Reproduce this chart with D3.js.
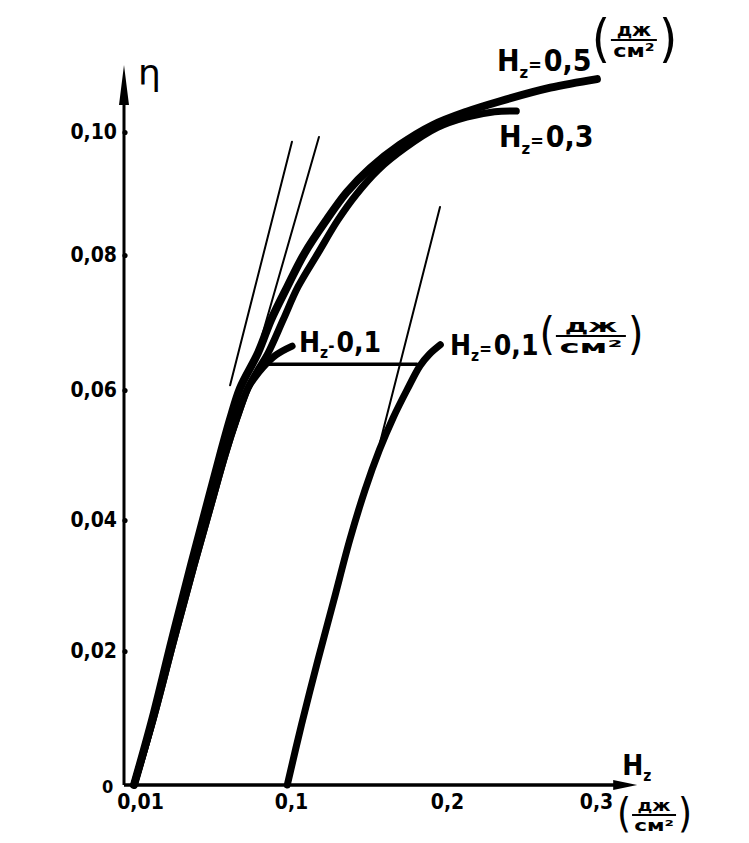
<!DOCTYPE html>
<html><head><meta charset="utf-8">
<script src="https://cdn.jsdelivr.net/npm/d3@7"></script>
<style>
html,body{margin:0;padding:0;background:#fff;}
svg{display:block;background:#fff;}
text{font-family:"DejaVu Sans Condensed","Liberation Sans Narrow","DejaVu Sans",sans-serif;font-weight:bold;fill:#000;}
</style></head><body>
<svg id="chart" width="749" height="843"></svg>
<script>
// ---------------- data ----------------
const xTickValues = [0.01, 0.1, 0.2, 0.3];
const xTickLabels = ["0,01", "0,1", "0,2", "0,3"];
const yTickValues = [0.02, 0.04, 0.06, 0.08, 0.10];
const yTickLabels = ["0,02", "0,04", "0,06", "0,08", "0,10"];

// Hz = 0.5 (дж/см²)
const curve05Hz  = [0.010, 0.0205, 0.032, 0.043, 0.052, 0.060, 0.066, 0.0716, 0.082, 0.0896, 0.099, 0.110, 0.124, 0.137, 0.152, 0.171, 0.192, 0.214, 0.2355, 0.268, 0.298];
const curve05Eta = [0.000, 0.0097, 0.0217, 0.033, 0.042, 0.050, 0.0557, 0.0603, 0.0655, 0.0704, 0.0753, 0.0803, 0.0857, 0.0902, 0.0941, 0.0979, 0.1011, 0.1033, 0.1050, 0.1072, 0.1086];
// Hz = 0.3
const curve03Hz  = [0.010, 0.021, 0.0332, 0.0449, 0.0547, 0.0629, 0.0698, 0.0762, 0.082, 0.0879, 0.0966, 0.1058, 0.1186, 0.1314, 0.143, 0.157, 0.1744, 0.195, 0.214, 0.232, 0.246];
const curve03Eta = [0.000, 0.0097, 0.0217, 0.0331, 0.0423, 0.050, 0.0557, 0.0603, 0.063, 0.0655, 0.0704, 0.0753, 0.0803, 0.0857, 0.0898, 0.0938, 0.0974, 0.1007, 0.1024, 0.1033, 0.1034];
// Hz = 0.1 (from origin)
const curve01Hz  = [0.010, 0.021, 0.0332, 0.0449, 0.0547, 0.0629, 0.0698, 0.0762, 0.0803, 0.085, 0.0925, 0.102];
const curve01Eta = [0.000, 0.0097, 0.0217, 0.0331, 0.0423, 0.050, 0.0557, 0.0603, 0.0619, 0.0634, 0.0652, 0.0665];
// Hz = 0.1 (shifted, starting at Hz = 0.1)
const curve01sHz  = [0.099, 0.108, 0.1186, 0.1288, 0.139, 0.1487, 0.158, 0.1667, 0.1756, 0.184, 0.190, 0.197];
const curve01sEta = [0.000, 0.009, 0.0187, 0.0278, 0.037, 0.0446, 0.0508, 0.0557, 0.060, 0.0636, 0.0653, 0.0667];
// thin tangent lines [Hz start, Hz end], [eta start, eta end]
const tangent1Hz = [0.0658, 0.1019], tangent1Eta = [0.0607, 0.0984];
const tangent2Hz = [0.0844, 0.1192], tangent2Eta = [0.0681, 0.0992];
const tangent3Hz = [0.1583, 0.1968], tangent3Eta = [0.0519, 0.0878];
// horizontal connector at eta ≈ 0.0638
const connectorHz = [0.0873, 0.182], connectorEta = [0.0638, 0.0638];

// ---------------- layout ----------------
const svg = d3.select("#chart");
const x = d3.scaleLinear().domain([0, 0.01, 0.1, 0.2, 0.3]).range([124, 134, 289, 445, 600]);
const y = d3.scaleLinear().domain([0, 0.02, 0.04, 0.06, 0.08, 0.10]).range([785, 651, 520, 390, 255, 132]);
const xAxisEnd = 0.324, yAxisEnd = 0.1109;

// axes lines with arrows
svg.append("line").attr("x1", x(0)).attr("x2", x(0)).attr("y1", y(0)).attr("y2", y(yAxisEnd) + 20)
  .attr("stroke", "#000").attr("stroke-width", 3);
svg.append("line").attr("x1", x(0)).attr("x2", x(xAxisEnd) - 18).attr("y1", y(0)).attr("y2", y(0))
  .attr("stroke", "#000").attr("stroke-width", 3.5);
svg.append("path").attr("d", () => {
  const tx = x(0), ty = y(yAxisEnd);
  return `M${tx},${ty} L${tx - 5},${ty + 40} L${tx + 5},${ty + 40} Z`;
}).attr("fill", "#000");
svg.append("path").attr("d", () => {
  const tx = x(xAxisEnd), ty = y(0);
  return `M${tx},${ty} L${tx - 24},${ty - 5} L${tx - 24},${ty + 5} Z`;
}).attr("fill", "#000");

// y axis ticks & labels
const gy = svg.append("g").attr("transform", `translate(${x(0)},0)`)
  .call(d3.axisLeft(y).tickValues(yTickValues).tickFormat((d, i) => yTickLabels[i]).tickSize(0).tickPadding(7));
gy.select(".domain").remove();
gy.selectAll("text").style("font-size", "21px").style("font-family", null).style("font-weight", "900").attr("fill", "#000");
gy.selectAll(".tick").append("circle").attr("r", 2.6).attr("cx", 1).attr("fill", "#000");

// x axis ticks & labels
const gx = svg.append("g").attr("transform", `translate(0,${y(0)})`)
  .call(d3.axisBottom(x).tickValues(xTickValues).tickFormat((d, i) => xTickLabels[i]).tickSize(0).tickPadding(9));
gx.select(".domain").remove();
gx.selectAll("text").style("font-size", "21px").style("font-family", null).style("font-weight", "900").attr("fill", "#000")
  .attr("dx", (d, i) => i === 0 ? 6 : (i === 3 ? -4 : 2));

// origin "0"
svg.append("text").attr("x", x(0) - 22).attr("y", y(0) + 8).style("font-size", "18px").text("0");

// axis names
svg.append("text").attr("x", x(0) + 14).attr("y", y(yAxisEnd) + 20).style("font-size", "36px")
  .style("font-family", "DejaVu Sans").style("font-weight", "normal").text("η");

function hName(g, px, py, fs, sep, value) {
  const t = g.append("text").attr("x", px).attr("y", py).style("font-size", fs + "px");
  t.append("tspan").text("H");
  t.append("tspan").attr("dy", fs * 0.22).style("font-size", (fs * 0.55) + "px").text("z");
  if (sep) {
    t.append("tspan").attr("dy", -fs * 0.22).style("font-size", (fs * 0.6) + "px").text(sep);
    t.append("tspan").attr("dx", 2).text(value);
  }
  return t;
}
function unit(g, px, cy, fs, fracW, parenFs) {
  const p1 = g.append("text").attr("x", px).attr("y", cy + parenFs * 0.3)
    .style("font-size", parenFs + "px").style("font-weight", "normal").text("(");
  const pw = p1.node().getComputedTextLength();
  const fx = px + pw + 1;
  g.append("text").attr("x", fx + fracW / 2).attr("y", cy - 4).attr("text-anchor", "middle")
    .style("font-size", fs + "px").attr("textLength", fracW * 0.75).attr("lengthAdjust", "spacingAndGlyphs").text("дж");
  g.append("line").attr("x1", fx).attr("x2", fx + fracW).attr("y1", cy).attr("y2", cy)
    .attr("stroke", "#000").attr("stroke-width", 2);
  g.append("text").attr("x", fx + fracW / 2).attr("y", cy + fs * 0.62 + 6).attr("text-anchor", "middle")
    .style("font-size", fs + "px").attr("textLength", fracW * 0.9).attr("lengthAdjust", "spacingAndGlyphs").text("см²");
  g.append("text").attr("x", fx + fracW + 2).attr("y", cy + parenFs * 0.3)
    .style("font-size", parenFs + "px").style("font-weight", "normal").text(")");
}

const labels = svg.append("g");
// x axis name
hName(labels, x(xAxisEnd) - 15, y(0) - 10, 28, null, null);
// unit after "0,3"
unit(labels, x(0.3) + 17, y(0) + 30, 16, 44, 40);

// ---------------- curves ----------------
const line = d3.line().x(d => x(d[0])).y(d => y(d[1])).curve(d3.curveCatmullRom.alpha(0.5));
const zipPts = (a, b) => a.map((v, i) => [v, b[i]]);
const curves = [
  {hz: curve05Hz, eta: curve05Eta, w: 8},
  {hz: curve03Hz, eta: curve03Eta, w: 7},
  {hz: curve01Hz, eta: curve01Eta, w: 7},
  {hz: curve01sHz, eta: curve01sEta, w: 7}
];
svg.append("g").selectAll("path").data(curves).join("path")
  .attr("d", c => line(zipPts(c.hz, c.eta)))
  .attr("fill", "none").attr("stroke", "#000").attr("stroke-width", c => c.w)
  .attr("stroke-linecap", "round").attr("stroke-linejoin", "round");

const thin = [
  {hz: tangent1Hz, eta: tangent1Eta, w: 2},
  {hz: tangent2Hz, eta: tangent2Eta, w: 2},
  {hz: tangent3Hz, eta: tangent3Eta, w: 2},
  {hz: connectorHz, eta: connectorEta, w: 3.5}
];
svg.append("g").selectAll("path").data(thin).join("path")
  .attr("d", c => d3.line().x(d => x(d[0])).y(d => y(d[1]))(zipPts(c.hz, c.eta)))
  .attr("fill", "none").attr("stroke", "#000").attr("stroke-width", c => c.w).attr("stroke-linecap", "round");

// ---------------- curve labels ----------------
const l1 = hName(labels, 497, 71, 30, "=", "0,5");
unit(labels, 497 + l1.node().getComputedTextLength() + 2, 40, 18, 46, 52);
hName(labels, 499, 147, 30, "=", "0,3");
hName(labels, 299, 352, 28, "-", "0,1");
const l4 = hName(labels, 450, 355, 28, "=", "0,1");
unit(labels, 450 + l4.node().getComputedTextLength() + 3, 336, 17, 70, 44);
</script>
</body></html>
